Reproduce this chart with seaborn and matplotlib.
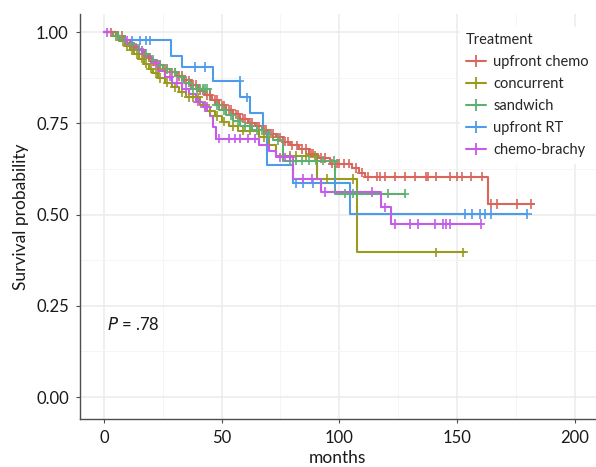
import numpy as np
import pandas as pd
import matplotlib
matplotlib.use("Agg")
import matplotlib.pyplot as plt
from matplotlib.lines import Line2D
from matplotlib.ticker import MultipleLocator
import seaborn as sns

# ---- Data (KM step points + censor times) ----
treatments = ["upfront chemo", "concurrent", "sandwich", "upfront RT", "chemo-brachy"]
colors = ["#D9665C", "#9A9A1E", "#5DB070", "#4E9BEA", "#C55BE8"]

chemo_t = [0, 5, 8, 10, 12, 14, 16, 18, 20, 22, 25, 28, 31, 34, 37, 40, 43, 46, 49,
           52, 55, 58, 61, 64, 67, 70, 73, 76, 79, 83, 87, 91, 96, 105.5, 108.5,
           110.8, 163.2, 182.7]
chemo_s = [1.0, 0.99, 0.98, 0.97, 0.96, 0.95, 0.94, 0.93, 0.92, 0.91, 0.90, 0.89,
           0.88, 0.868, 0.855, 0.84, 0.827, 0.815, 0.80, 0.787, 0.775, 0.763, 0.752,
           0.742, 0.732, 0.722, 0.712, 0.70, 0.69, 0.68, 0.667, 0.655, 0.64, 0.628,
           0.615, 0.604, 0.529, 0.529]
chemo_c = [3, 6, 7.5, 9, 11, 13, 15, 16.5, 17.5, 19, 21, 23, 24, 26, 27, 29, 30, 32,
           33, 35, 36, 38, 39, 41, 42, 44, 45, 47, 48, 50, 51, 53, 54, 56, 57, 59, 60,
           62, 63, 65, 66, 68, 69, 71, 72, 74, 75, 77, 78, 80, 82, 84, 86, 88, 89, 92,
           94, 97, 99, 100, 102, 104, 107, 109.5, 112.2, 115.8, 117.2, 119.3, 123.6,
           127.8, 132.1, 137, 137.7, 141.2, 146.9, 149.8, 151.9, 156.1, 160.4, 164.6,
           166.8, 175.5, 181.2]

conc_t = [0, 4, 7, 9, 11, 13, 15, 17, 19, 21, 23, 26, 29, 32, 35, 41, 44, 47, 50,
          53, 57, 66, 70, 73, 90.6, 107.5, 153.3]
conc_s = [1.0, 0.99, 0.975, 0.962, 0.95, 0.94, 0.928, 0.914, 0.90, 0.888, 0.875,
          0.862, 0.85, 0.835, 0.822, 0.80, 0.785, 0.77, 0.755, 0.742, 0.73, 0.712,
          0.69, 0.662, 0.598, 0.397, 0.397]
conc_c = [5, 8, 10, 12, 14, 16, 18, 20, 22, 24, 27, 30, 33, 36, 38, 40, 43, 45, 48,
          51, 55, 59, 62, 68, 79, 81.8, 86, 89.6, 94.6, 105.9, 141.2, 152.6]

sand_t = [0, 4, 7, 10, 13, 16, 19, 22, 25, 28, 31, 34, 37, 45, 47, 49, 52, 55, 58,
          63, 68, 72, 76, 98, 128]
sand_s = [1.0, 0.99, 0.98, 0.968, 0.955, 0.94, 0.925, 0.91, 0.898, 0.89, 0.876,
          0.862, 0.845, 0.815, 0.80, 0.787, 0.772, 0.757, 0.742, 0.732, 0.72, 0.705,
          0.648, 0.557, 0.557]
sand_c = [6, 9, 12, 15, 18, 21, 24, 27, 30, 33, 36, 38, 39.5, 41, 42, 43, 44, 48, 51,
          54, 57, 60, 62, 65, 67, 70, 74, 79, 81.8, 84, 87, 90, 93, 97.7, 102.3, 105.9,
          107.3, 120.7, 127.8]

rt_t = [0, 6, 28.7, 33, 46.3, 57.8, 62, 67.6, 69.1, 80.4, 104.5, 179.7]
rt_s = [1.0, 0.978, 0.935, 0.905, 0.866, 0.822, 0.779, 0.731, 0.635, 0.587, 0.502, 0.502]
rt_c = [11.8, 15.3, 18, 19.5, 38.6, 42.9, 57.7, 60.6, 81.8, 84.6, 88.9, 98, 153.3,
        156.4, 159.7, 162, 164.3, 179.7]

brachy_t = [0, 5, 8, 11, 14, 17, 20, 23, 26, 29, 33, 36, 39, 42, 45, 46.5, 47.8, 66,
            70, 73, 80.4, 92.4, 117.9, 122.1, 160.4]
brachy_s = [1.0, 0.99, 0.978, 0.965, 0.95, 0.935, 0.915, 0.895, 0.878, 0.862, 0.845,
            0.83, 0.81, 0.795, 0.77, 0.74, 0.708, 0.69, 0.675, 0.657, 0.598, 0.562,
            0.52, 0.474, 0.474]
brachy_c = [1.5, 10, 16, 22, 28, 31, 35, 40, 43, 44, 49, 53, 55.5, 58, 61, 64, 75, 77,
            79, 84.6, 88.2, 94, 113.7, 119.3, 123.6, 129.9, 133.5, 140.5, 144, 145.2,
            147.2, 160]

curves = {
    "upfront chemo": (chemo_t, chemo_s, chemo_c),
    "concurrent": (conc_t, conc_s, conc_c),
    "sandwich": (sand_t, sand_s, sand_c),
    "upfront RT": (rt_t, rt_s, rt_c),
    "chemo-brachy": (brachy_t, brachy_s, brachy_c),
}

steps, cens = [], []
for name, (t, s, c) in curves.items():
    steps.append(pd.DataFrame({"time": t, "surv": s, "Treatment": name}))
    idx = np.searchsorted(t, c, side="right") - 1
    cens.append(pd.DataFrame({"time": c, "surv": np.array(s)[idx], "Treatment": name}))
steps = pd.concat(steps, ignore_index=True)
cens = pd.concat(cens, ignore_index=True)

# ---- Plot ----
sns.set_theme(style="whitegrid")
plt.rcParams["font.family"] = ["Lato", "DejaVu Sans"]
palette = dict(zip(treatments, colors))

fig = plt.figure(figsize=(5.96, 4.67), dpi=100)
ax = fig.add_axes([0.134, 0.103, 0.866, 0.867])

sns.lineplot(data=steps, x="time", y="surv", hue="Treatment", palette=palette,
             drawstyle="steps-post", estimator=None, sort=False, linewidth=1.5,
             legend=False, ax=ax)
sns.scatterplot(data=cens, x="time", y="surv", hue="Treatment", palette=palette,
                marker="+", s=45, linewidth=1.2, legend=False, ax=ax, zorder=3)

ax.set_xlim(-10.2, 209)
ax.set_ylim(-0.06, 1.05)
ax.xaxis.set_major_locator(MultipleLocator(50))
ax.xaxis.set_minor_locator(MultipleLocator(25))
ax.yaxis.set_major_locator(MultipleLocator(0.25))
ax.yaxis.set_minor_locator(MultipleLocator(0.125))
ax.set_yticklabels([f"{v:.2f}" for v in ax.get_yticks()])
ax.grid(which="major", color="#ebebeb", linewidth=1.1)
ax.grid(which="minor", color="#f4f4f4", linewidth=0.6)
ax.set_facecolor("white")
for side in ["top", "right"]:
    ax.spines[side].set_visible(False)
for side in ["left", "bottom"]:
    ax.spines[side].set_color("#4d4d4d")
    ax.spines[side].set_linewidth(1.0)
ax.tick_params(which="major", length=3, width=0.8, color="#4d4d4d",
               labelsize=12, labelcolor="#1a1a1a", pad=5, bottom=True, left=True)
ax.tick_params(which="minor", length=0)
ax.set_xlabel("months", fontsize=12.5, color="#1a1a1a", labelpad=3)
ax.set_ylabel("Survival probability", fontsize=12.5, color="#1a1a1a", labelpad=5)

ax.text(1.5, 0.2, r"$\it{P}$ = .78", fontsize=12, va="center", ha="left",
        color="#1a1a1a")

handles = [Line2D([0], [0], color=palette[n], marker="+", markersize=9,
                  markeredgewidth=1.3, linewidth=1.5) for n in treatments]
leg = ax.legend(handles, treatments, title="Treatment", loc="upper right",
                bbox_to_anchor=(1.012, 0.985), frameon=True, facecolor="white",
                edgecolor="white", framealpha=1, fancybox=False, fontsize=10.5,
                title_fontsize=10.5, handlelength=1.4, handletextpad=0.5,
                labelspacing=0.55, borderpad=0.4, alignment="left")

fig.savefig("out.png", dpi=100)
